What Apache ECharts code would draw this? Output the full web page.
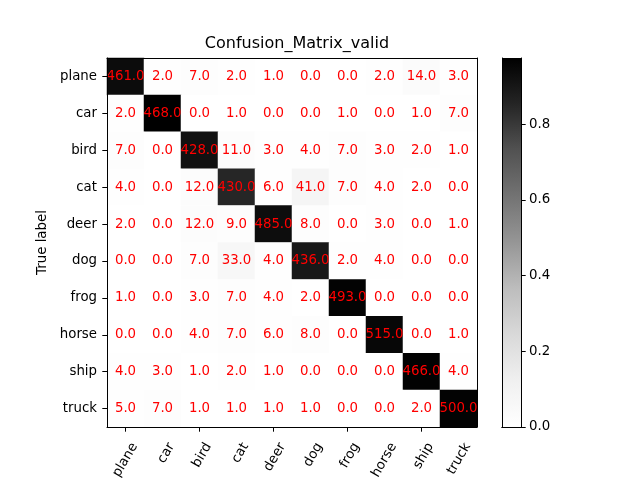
<!DOCTYPE html>
<html>
<head>
<meta charset="utf-8">
<script src="https://cdn.jsdelivr.net/npm/echarts@6/dist/echarts.min.js"></script>
<style>html,body{margin:0;padding:0;background:#fff}#c{width:640px;height:480px}</style>
</head>
<body>
<div id="c"></div>
<script>
var categories = ['plane','car','bird','cat','deer','dog','frog','horse','ship','truck'];
var rowPlane = [461,2,7,2,1,0,0,2,14,3];
var rowCar   = [2,468,0,1,0,0,1,0,1,7];
var rowBird  = [7,0,428,11,3,4,7,3,2,1];
var rowCat   = [4,0,12,430,6,41,7,4,2,0];
var rowDeer  = [2,0,12,9,485,8,0,3,0,1];
var rowDog   = [0,0,7,33,4,436,2,4,0,0];
var rowFrog  = [1,0,3,7,4,2,493,0,0,0];
var rowHorse = [0,0,4,7,6,8,0,515,0,1];
var rowShip  = [4,3,1,2,1,0,0,0,466,4];
var rowTruck = [5,7,1,1,1,1,0,0,2,500];
var colorbarTicks = [0, 0.2, 0.4, 0.6, 0.8];
var titleText = 'Confusion_Matrix_valid';
var yName = 'True label';

var rows = [rowPlane,rowCar,rowBird,rowCat,rowDeer,rowDog,rowFrog,rowHorse,rowShip,rowTruck];
var greys = ['#ffffff','#f0f0f0','#d9d9d9','#bdbdbd','#969696','#737373','#525252','#252525','#000000'];

var data = [];
var vmax = 0, vmin = 1;
rows.forEach(function(r, i){
  var s = r.reduce(function(a,b){return a+b;},0);
  r.forEach(function(v, j){
    var n = v / s;
    if (n > vmax) vmax = n;
    if (n < vmin) vmin = n;
    data.push([j, i, n, v]);
  });
});

var font = 'DejaVu Sans';
var stops = greys.map(function(c, k){ return {offset: 1 - k/(greys.length-1), color: c}; });
var hiddenAxis = {show: false};

var chart = echarts.init(document.getElementById('c'), null, {renderer:'canvas'});
chart.setOption({
  animation: false,
  backgroundColor: '#fff',
  textStyle: {fontFamily: font},
  title: {
    text: titleText, left: 292, top: 31, textAlign: 'center',
    textStyle: {fontFamily: font, fontSize: 16, fontWeight: 'normal', color: '#000'}
  },
  grid: [
    {left: 107, top: 58, width: 370, height: 369, outerBoundsMode: 'none'},
    {left: 502, top: 58, width: 19, height: 369, outerBoundsMode: 'none'},
    {left: 116, top: 58, width: 370, height: 369, outerBoundsMode: 'none'}
  ],
  xAxis: [
    {type: 'category', gridIndex: 0, data: categories, position: 'bottom', z: 5,
     axisLine: {show: true, lineStyle: {color: '#000', width: 1}},
     axisTick: {show: true, alignWithLabel: true, length: 4.7, lineStyle: {color: '#000'}},
     axisLabel: {show: false},
     splitLine: {show: false}},
    {type: 'category', gridIndex: 0, data: categories, position: 'top', z: 5,
     axisLine: {show: true, lineStyle: {color: '#000', width: 1}},
     axisTick: {show: false}, axisLabel: {show: false}, splitLine: {show: false}},
    {type: 'category', gridIndex: 1, data: ['cb'], position: 'bottom', z: 5,
     axisLine: {show: true, lineStyle: {color: '#000', width: 1}},
     axisTick: {show: false}, axisLabel: {show: false}},
    {type: 'category', gridIndex: 1, data: ['cb'], position: 'top', z: 5,
     axisLine: {show: true, lineStyle: {color: '#000', width: 1}},
     axisTick: {show: false}, axisLabel: {show: false}},
    {type: 'category', gridIndex: 2, data: categories, position: 'bottom', z: 5,
     axisLine: {show: false}, axisTick: {show: false}, splitLine: {show: false},
     axisLabel: {show: true, interval: 0, rotate: 60, margin: 17, fontSize: 13.33, fontFamily: font, color: '#000'}}
  ],
  yAxis: [
    {type: 'category', gridIndex: 0, data: categories, inverse: true, position: 'left', z: 5,
     name: yName, nameLocation: 'middle', nameRotate: 90, nameGap: 54,
     nameTextStyle: {fontFamily: font, fontSize: 13.33, color: '#000'},
     axisLine: {show: true, lineStyle: {color: '#000', width: 1}},
     axisTick: {show: true, alignWithLabel: true, length: 4.7, lineStyle: {color: '#000'}},
     axisLabel: {show: true, interval: 0, margin: 10, fontSize: 13.33, fontFamily: font, color: '#000'},
     splitLine: {show: false}},
    {type: 'category', gridIndex: 0, data: categories, inverse: true, position: 'right', z: 5,
     axisLine: {show: true, lineStyle: {color: '#000', width: 1}},
     axisTick: {show: false}, axisLabel: {show: false}, splitLine: {show: false}},
    {type: 'value', gridIndex: 1, min: 0, max: vmax, position: 'right', z: 5,
     axisLine: {show: true, lineStyle: {color: '#000', width: 1}},
     axisTick: {show: true, length: 4.7, lineStyle: {color: '#000'}, customValues: colorbarTicks},
     axisLabel: {show: true, margin: 8, fontSize: 13.33, fontFamily: font, color: '#000',
       customValues: colorbarTicks, formatter: function(v){ return v.toFixed(1); }},
     splitLine: {show: false}},
    {type: 'value', gridIndex: 1, min: 0, max: vmax, position: 'left', z: 5,
     axisLine: {show: true, lineStyle: {color: '#000', width: 1}},
     axisTick: {show: false}, axisLabel: {show: false}, splitLine: {show: false}},
    {type: 'value', gridIndex: 2, show: false}
  ],
  visualMap: {
    show: false, type: 'continuous', seriesIndex: 0, dimension: 2,
    min: vmin, max: vmax, inRange: {color: greys}
  },
  series: [
    {type: 'heatmap', xAxisIndex: 0, yAxisIndex: 0, data: data,
     label: {show: true, color: '#ff0000', fontSize: 13.33, fontFamily: font,
       formatter: function(p){ return p.data[3].toFixed(1); }},
     itemStyle: {borderWidth: 0}, emphasis: {disabled: true}},
    {type: 'bar', xAxisIndex: 2, yAxisIndex: 2, data: [vmax], barWidth: '100%',
     itemStyle: {color: new echarts.graphic.LinearGradient(0, 0, 0, 1, stops)},
     silent: true}
  ]
});
</script>
</body>
</html>
